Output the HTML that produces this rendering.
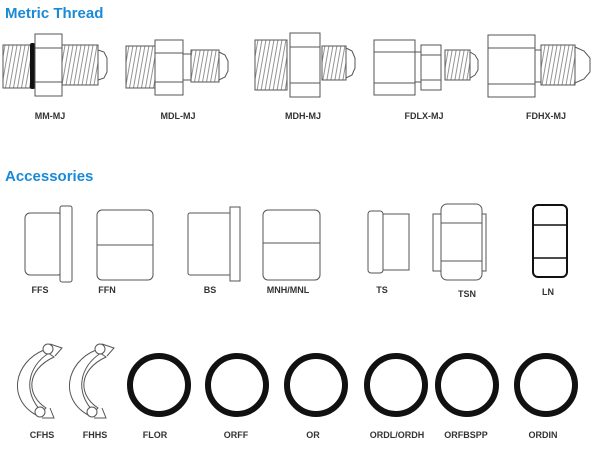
<!DOCTYPE html>
<html><head><meta charset="utf-8"><style>
html,body{margin:0;padding:0;background:#fff;width:600px;height:452px;overflow:hidden}
svg{display:block}
.t{font-family:"Liberation Sans",sans-serif;font-weight:bold;fill:#1a8ad6;font-size:15px}
.l{font-family:"Liberation Sans",sans-serif;font-weight:bold;font-size:9px;fill:#333;text-anchor:middle}
.s{fill:#fff;stroke:#555;stroke-width:1}
.th{fill:url(#thr);stroke:#555;stroke-width:1}
</style></head><body>
<svg width="600" height="452" viewBox="0 0 600 452" xmlns="http://www.w3.org/2000/svg">
<defs><pattern id="thr" width="4" height="60" patternUnits="userSpaceOnUse" patternTransform="skewX(-10)">
<rect width="4" height="60" fill="#fff"/><line x1="1" y1="0" x2="1" y2="60" stroke="#777" stroke-width="0.8"/></pattern></defs>
<text class="t" x="5" y="18">Metric Thread</text>
<text class="t" x="5" y="181">Accessories</text>
<rect class="th" x="3" y="45" width="30" height="43"/>
<rect x="30" y="43" width="5" height="46" fill="#111" rx="2"/>
<rect class="s" x="35" y="34" width="27" height="62"/><line x1="35" y1="48" x2="62" y2="48" stroke="#555"/><line x1="35" y1="82" x2="62" y2="82" stroke="#555"/>
<rect class="th" x="62" y="45" width="36" height="40"/><path class="s" d="M98 50 L104 52 L107 58 L107 72 L104 78 L98 80Z"/>
<rect class="th" x="126" y="46" width="29" height="42"/>
<rect class="s" x="155" y="40" width="28" height="55"/><line x1="155" y1="53" x2="183" y2="53" stroke="#555"/><line x1="155" y1="82" x2="183" y2="82" stroke="#555"/>
<rect class="s" x="183" y="54" width="8" height="26"/>
<rect class="th" x="191" y="50" width="28" height="32"/><path class="s" d="M219 52 L225 55 L228 61 L228 71 L225 77 L219 80Z"/>
<rect class="th" x="255" y="40" width="32" height="50"/>
<rect class="s" x="290" y="33" width="30" height="64"/><line x1="290" y1="47" x2="320" y2="47" stroke="#555"/><line x1="290" y1="83" x2="320" y2="83" stroke="#555"/>
<rect class="th" x="322" y="46" width="24" height="34"/><path class="s" d="M346 48 L352 51 L355 58 L355 68 L352 75 L346 78Z"/>
<rect class="s" x="374" y="40" width="41" height="55"/><line x1="374" y1="52" x2="415" y2="52" stroke="#555"/><line x1="374" y1="83" x2="415" y2="83" stroke="#555"/>
<rect class="s" x="415" y="52" width="6" height="30"/>
<rect class="s" x="421" y="45" width="20" height="45"/><line x1="421" y1="55" x2="441" y2="55" stroke="#555"/><line x1="421" y1="80" x2="441" y2="80" stroke="#555"/>
<rect class="th" x="445" y="50" width="25" height="30"/><path class="s" d="M470 52 L475 55 L478 60 L478 70 L475 75 L470 78Z"/>
<rect class="s" x="488" y="35" width="47" height="62"/><line x1="488" y1="48" x2="535" y2="48" stroke="#555"/><line x1="488" y1="84" x2="535" y2="84" stroke="#555"/>
<rect class="s" x="535" y="50" width="6" height="32"/>
<rect class="th" x="541" y="45" width="34" height="40"/><path class="s" d="M575 47 L584 51 L590 58 L590 72 L584 79 L575 83Z"/>
<text class="l" x="50" y="119">MM-MJ</text><text class="l" x="178" y="119">MDL-MJ</text><text class="l" x="303" y="119">MDH-MJ</text><text class="l" x="424" y="119">FDLX-MJ</text><text class="l" x="546" y="119">FDHX-MJ</text>
<rect class="s" x="25" y="213" width="38" height="62" rx="5"/><rect class="s" x="60" y="206" width="12" height="76" rx="2"/>
<rect class="s" x="97" y="210" width="56" height="70" rx="5"/><line x1="97" y1="245" x2="153" y2="245" stroke="#555"/>
<rect class="s" x="188" y="213" width="44" height="62" rx="2"/><rect class="s" x="230" y="207" width="10" height="74"/>
<rect class="s" x="263" y="210" width="57" height="70" rx="5"/><line x1="263" y1="243" x2="320" y2="243" stroke="#555"/>
<rect class="s" x="368" y="211" width="15" height="62" rx="3"/><rect class="s" x="383" y="214" width="26" height="56"/>
<rect class="s" x="433" y="214" width="53" height="57"/><rect class="s" x="441" y="204" width="41" height="76" rx="6"/><line x1="441" y1="223" x2="482" y2="223" stroke="#555"/><line x1="441" y1="261" x2="482" y2="261" stroke="#555"/>
<rect x="533" y="205" width="34" height="72" rx="5" fill="#fff" stroke="#111" stroke-width="2"/><line x1="533" y1="225" x2="567" y2="225" stroke="#111" stroke-width="1.5"/><line x1="533" y1="258" x2="567" y2="258" stroke="#111" stroke-width="1.5"/>
<text class="l" x="40" y="293">FFS</text><text class="l" x="107" y="293">FFN</text><text class="l" x="210" y="293">BS</text><text class="l" x="288" y="293">MNH/MNL</text><text class="l" x="382" y="293">TS</text><text class="l" x="467" y="297">TSN</text><text class="l" x="548" y="295">LN</text>
<g fill="#fff" stroke="#555" stroke-width="1">
<path d="M44 350 C14 362 6 400 38 416 L46 408 C26 395 26 370 54 357Z"/><path d="M49 353 C28 366 22 392 42 412" fill="none"/>
<circle cx="48" cy="349" r="5"/><circle cx="40" cy="412" r="5"/><path d="M50 344 L62 348 L55 356" fill="none"/><path d="M42 418 L54 418 L50 408" fill="none"/>
<path d="M96 350 C66 362 58 400 90 416 L98 408 C78 395 78 370 106 357Z"/><path d="M101 353 C80 366 74 392 94 412" fill="none"/>
<circle cx="100" cy="349" r="5"/><circle cx="92" cy="412" r="5"/><path d="M102 344 L114 348 L107 356" fill="none"/><path d="M94 418 L106 418 L102 408" fill="none"/>
</g>
<g fill="none" stroke="#111" stroke-width="6">
<circle cx="159" cy="385" r="29"/><circle cx="237" cy="385" r="29"/><circle cx="316" cy="385" r="29"/><circle cx="396" cy="385" r="29"/><circle cx="467" cy="385" r="29"/><circle cx="546" cy="385" r="29"/>
</g>
<text class="l" x="42" y="438">CFHS</text><text class="l" x="95" y="438">FHHS</text><text class="l" x="155" y="438">FLOR</text><text class="l" x="236" y="438">ORFF</text><text class="l" x="313" y="438">OR</text><text class="l" x="397" y="438">ORDL/ORDH</text><text class="l" x="466" y="438">ORFBSPP</text><text class="l" x="543" y="438">ORDIN</text>
</svg>
</body></html>
